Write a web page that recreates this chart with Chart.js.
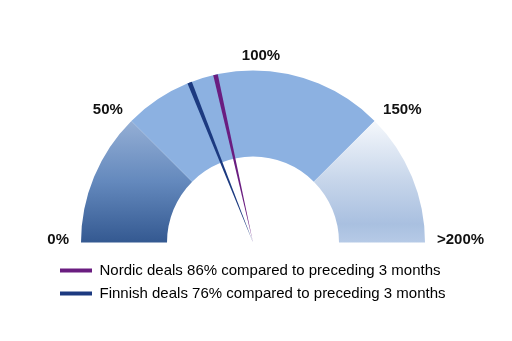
<!DOCTYPE html>
<html>
<head>
<meta charset="utf-8">
<script src="https://cdn.jsdelivr.net/npm/chart.js@4.4.0/dist/chart.umd.min.js"></script>
<style>
  html, body { margin: 0; padding: 0; background: #fff; }
  #wrap { width: 512px; height: 341px; }
</style>
</head>
<body>
<div id="wrap"><canvas id="gauge"></canvas></div>
<script>
// --- Gauge bands (% of preceding 3 months) ---
const bandSizes = [50, 50, 50, 50];
const tickLabels = ['0%', '50%', '100%', '150%', '>200%'];

// --- Needles ---
const needleNames = ['Nordic', 'Finnish'];
const needleValues = [86, 76];
const needleColors = ['#6a1d80', '#1c3a80'];

const FONT = 'Arial, "Liberation Sans", sans-serif';

// vertical gradients for the outer bands, solid for the middle ones
function bandColor(context) {
    const chart = context.chart;
    const area = chart.chartArea;
    const ctrl = chart.getDatasetMeta(0).controller;
    const i = context.dataIndex;
    const flat = ['#5f83b8', '#8cb1e1', '#8cb1e1', '#c5d4ea'];
    if (i === 1 || i === 2) return flat[i];
    if (!area || !ctrl || !ctrl.outerRadius) return flat[i];
    const cy = (area.top + area.bottom) / 2 + ctrl.offsetY;
    const r = ctrl.outerRadius;
    const g = chart.ctx.createLinearGradient(0, cy - r * 0.71, 0, cy);
    if (i === 0) {
        g.addColorStop(0, '#95afd5');
        g.addColorStop(0.5, '#6489bd');
        g.addColorStop(1, '#345991');
    } else {
        g.addColorStop(0, '#f5f8fc');
        g.addColorStop(0.5, '#c6d5ea');
        g.addColorStop(0.85, '#a9c0e0');
        g.addColorStop(1, '#b6cae6');
    }
    return g;
}

// thin wedges from the hub out to the rim
const needlePlugin = {
    id: 'needles',
    afterDatasetsDraw(chart) {
        const arcs = chart.getDatasetMeta(0).data;
        const first = arcs[0];
        const last = arcs[arcs.length - 1];
        const total = bandSizes.reduce((a, b) => a + b, 0);
        const span = last.endAngle - first.startAngle;
        const ctx = chart.ctx;
        const half = 0.0135;
        needleValues.forEach((v, i) => {
            const a = first.startAngle + (v / total) * span;
            ctx.save();
            ctx.beginPath();
            ctx.moveTo(first.x, first.y);
            ctx.arc(first.x, first.y, first.outerRadius, a - half, a + half);
            ctx.closePath();
            ctx.fillStyle = needleColors[i];
            ctx.fill();
            ctx.restore();
        });
    }
};

// percent labels at the band edges
const tickPlugin = {
    id: 'ticks',
    afterDraw(chart) {
        const arcs = chart.getDatasetMeta(0).data;
        const angles = arcs.map(a => a.startAngle).concat(arcs[arcs.length - 1].endAngle);
        const { x, y, outerRadius } = arcs[0];
        const ctx = chart.ctx;
        ctx.save();
        ctx.font = 'bold 15px ' + FONT;
        ctx.fillStyle = '#111';
        ctx.textBaseline = 'middle';
        angles.forEach((a, i) => {
            const r = outerRadius + 12;
            let px = x + Math.cos(a) * r;
            let py = y + Math.sin(a) * r - 2.5;
            const c = Math.cos(a);
            if (c < -0.1) ctx.textAlign = 'right';
            else if (c > 0.1) ctx.textAlign = 'left';
            else { ctx.textAlign = 'center'; px += 8; }
            ctx.fillText(tickLabels[i], px, py);
        });
        ctx.restore();
    }
};

new Chart(document.getElementById('gauge'), {
    type: 'doughnut',
    data: {
        labels: tickLabels.slice(0, 4),
        datasets: [{
            data: bandSizes,
            backgroundColor: bandColor,
            borderWidth: 0
        }]
    },
    options: {
        responsive: true,
        maintainAspectRatio: false,
        animation: false,
        events: [],
        rotation: -90,
        circumference: 180,
        cutout: '50%',
        radius: 172,
        layout: { padding: { top: 58, bottom: 30, left: 52, right: 58 } },
        plugins: {
            tooltip: { enabled: false },
            legend: {
                position: 'bottom',
                align: 'start',
                labels: {
                    boxWidth: 32,
                    boxHeight: 4,
                    padding: 8,
                    color: '#1a1a1a',
                    font: { family: FONT, size: 15 },
                    generateLabels: () => needleNames.map((n, i) => ({
                        text: `${n} deals ${needleValues[i]}% compared to preceding 3 months`,
                        fillStyle: needleColors[i],
                        strokeStyle: needleColors[i],
                        lineWidth: 0,
                        hidden: false,
                        index: i
                    }))
                }
            }
        }
    },
    plugins: [needlePlugin, tickPlugin]
});
</script>
</body>
</html>
